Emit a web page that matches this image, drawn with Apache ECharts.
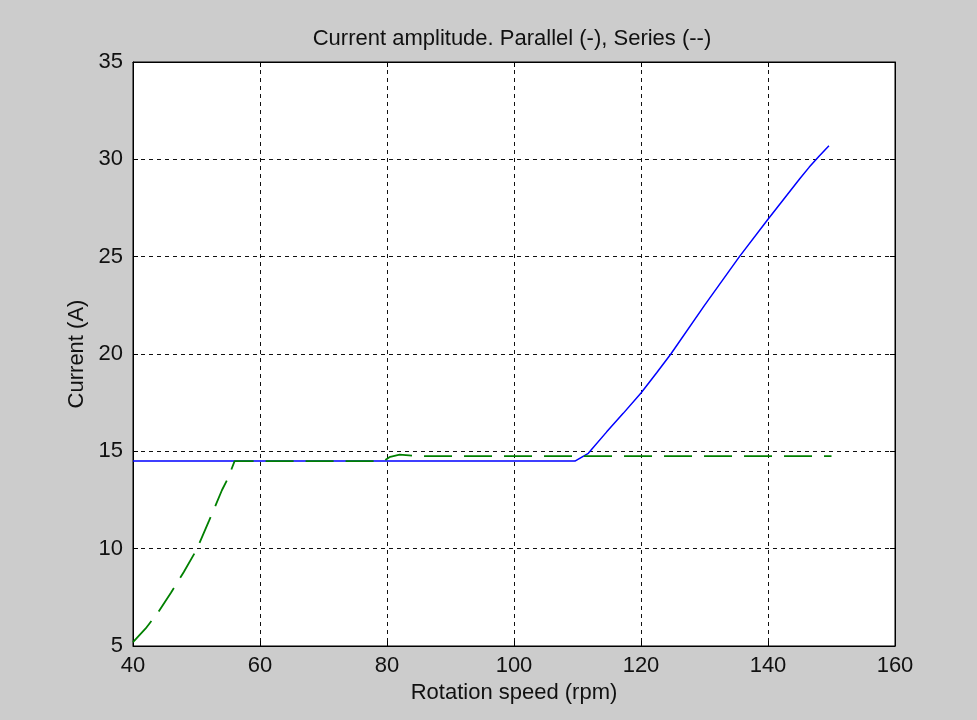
<!DOCTYPE html>
<html>
<head>
<meta charset="utf-8">
<script src="https://cdn.jsdelivr.net/npm/echarts@6/dist/echarts.min.js"></script>
<style>
html,body{margin:0;padding:0;background:#cccccc;}
#c{width:977px;height:720px;}
</style>
</head>
<body>
<div id="c"></div>
<script>
const titleText = 'Current amplitude. Parallel (-), Series (--)';
const xName = 'Rotation speed (rpm)';
const yName = 'Current (A)';

// Parallel (solid blue)
const parallelX = [40, 60, 80, 100, 109.6, 111.7, 114.6, 117.2, 120, 122.5, 124.7, 130, 135.5, 140, 145, 146.5, 148, 149.6];
const parallelY = [14.5, 14.5, 14.5, 14.5, 14.5, 14.9, 16.0, 16.95, 18.0, 19.05, 20.0, 22.5, 25.0, 26.92, 29.0, 29.6, 30.15, 30.7];

// Series (dashed green)
const seriesX = [40, 42, 44, 46, 48, 50, 52, 54, 55, 56, 60, 70, 79.5, 80.5, 82, 84, 86, 90, 100, 110, 120, 130, 140, 150];
const seriesY = [5.2, 5.9, 6.75, 7.75, 8.8, 9.94, 11.45, 13.0, 13.65, 14.5, 14.5, 14.5, 14.5, 14.72, 14.83, 14.78, 14.75, 14.75, 14.75, 14.75, 14.75, 14.75, 14.75, 14.75];

const xMin = 40, xMax = 160, xStep = 20;
const yMin = 5, yMax = 35, yStep = 5;

const pair = (xs, ys) => xs.map((x, i) => [x, ys[i]]);

const font = 'Liberation Sans, Arial, sans-serif';
const fs = 22;
const tickStyle = {show: true, inside: true, length: 5, lineStyle: {color: '#000', width: 1}};
const gridLine = {show: true, lineStyle: {color: '#111', type: [4, 4], width: 1}};

const chart = echarts.init(document.getElementById('c'), null, {renderer: 'canvas'});
chart.setOption({
  backgroundColor: '#cccccc',
  animation: false,
  title: {
    text: titleText, left: 507, top: 23, textAlign: 'center',
    textStyle: {fontFamily: font, fontSize: fs, fontWeight: 'normal', color: '#111'}
  },
  grid: {left: 133, top: 62, right: 82, bottom: 74, containLabel: false, outerBoundsMode: 'none',
         show: true, backgroundColor: '#ffffff', borderColor: '#000', borderWidth: 1},
  xAxis: [{
    type: 'value', min: xMin, max: xMax, interval: xStep, position: 'bottom',
    name: xName, nameLocation: 'middle', nameGap: 36,
    nameTextStyle: {fontFamily: font, fontSize: fs, color: '#111'},
    axisLine: {show: true, onZero: false, lineStyle: {color: '#000', width: 1}},
    axisTick: tickStyle,
    axisLabel: {fontFamily: font, fontSize: fs, color: '#111', margin: 9},
    splitLine: gridLine
  }, {
    type: 'value', min: xMin, max: xMax, interval: xStep, position: 'top',
    axisLine: {show: true, onZero: false, lineStyle: {color: '#000', width: 1}},
    axisTick: tickStyle, axisLabel: {show: false}, splitLine: {show: false}
  }],
  yAxis: [{
    type: 'value', min: yMin, max: yMax, interval: yStep, position: 'left',
    name: yName, nameLocation: 'middle', nameGap: 44,
    nameTextStyle: {fontFamily: font, fontSize: fs, color: '#111'},
    axisLine: {show: true, onZero: false, lineStyle: {color: '#000', width: 1}},
    axisTick: tickStyle,
    axisLabel: {fontFamily: font, fontSize: fs, color: '#111', margin: 10},
    splitLine: gridLine
  }, {
    type: 'value', min: yMin, max: yMax, interval: yStep, position: 'right',
    axisLine: {show: true, onZero: false, lineStyle: {color: '#000', width: 1}},
    axisTick: tickStyle, axisLabel: {show: false}, splitLine: {show: false}
  }],
  series: [{
    name: 'Parallel', type: 'line', data: pair(parallelX, parallelY),
    showSymbol: false, symbol: 'none', smooth: false,
    lineStyle: {color: '#0000ff', width: 1.5}, z: 3
  }, {
    name: 'Series', type: 'line', data: pair(seriesX, seriesY),
    showSymbol: false, symbol: 'none', smooth: false,
    lineStyle: {color: '#008000', width: 1.8, type: [28, 12]}, z: 4
  }]
});
</script>
</body>
</html>
